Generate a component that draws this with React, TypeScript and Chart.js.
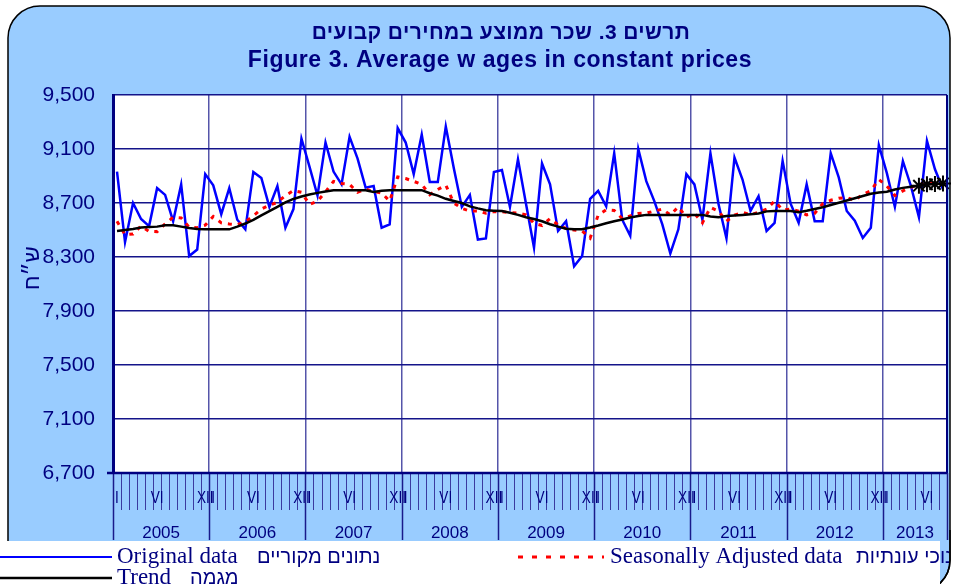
import { useEffect, useRef } from "react";
import { Chart, registerables } from "chart.js";

Chart.register(...registerables);

const years = ["2005", "2006", "2007", "2008", "2009", "2010", "2011", "2012", "2013"];
const monthsInLastYear = 8;
const monthTickLabels = ["I", "", "", "", "", "VI", "", "", "", "", "", "XII"];
const yTicks = [6700, 7100, 7500, 7900, 8300, 8700, 9100, 9500];

const categories: string[] = [];
years.forEach((y, yi) => {
  const n = yi === years.length - 1 ? monthsInLastYear : 12;
  for (let m = 0; m < n; m++) categories.push(`${y}-${m + 1}`);
});

const originalData = [
  8933, 8410, 8700, 8581, 8529, 8810, 8760, 8565, 8838, 8307, 8355, 8914,
  8831, 8617, 8810, 8576, 8505, 8930, 8886, 8671, 8826, 8517, 8655, 9176,
  8969, 8755, 9148, 8933, 8838, 9190, 9029, 8814, 8826, 8517, 8541, 9255,
  9148, 8914, 9207, 8855, 8855, 9267, 8957, 8671, 8760, 8429, 8438, 8929,
  8945, 8671, 9024, 8695, 8370, 8993, 8838, 8493, 8565, 8231, 8307, 8731,
  8790, 8676, 9069, 8576, 8457, 9100, 8862, 8714, 8541, 8326, 8505, 8914,
  8838, 8576, 9069, 8695, 8438, 9036, 8874, 8641, 8750, 8493, 8553, 9012,
  8695, 8553, 8838, 8565, 8565, 9069, 8890, 8641, 8569, 8441, 8517, 9129,
  8921, 8671, 9010, 8826, 8595, 9160, 8950, 8802,
];

const seasonallyAdjusted = [
  8565, 8465, 8470, 8530, 8490, 8488, 8545, 8595, 8590, 8520, 8517, 8536,
  8600, 8553, 8545, 8540, 8560, 8605, 8655, 8683, 8705, 8755, 8792, 8779,
  8690, 8714, 8783, 8860, 8845, 8838, 8779, 8803, 8785, 8774, 8714, 8893,
  8881, 8860, 8838, 8762, 8800, 8833, 8700, 8660, 8641, 8641, 8624, 8636,
  8635, 8630, 8625, 8612, 8550, 8533, 8585, 8538, 8510, 8500, 8493, 8440,
  8610, 8650, 8645, 8585, 8605, 8622, 8625, 8640, 8655, 8612, 8671, 8595,
  8624, 8553, 8667, 8640, 8565, 8610, 8631, 8612, 8632, 8655, 8714, 8648,
  8655, 8640, 8612, 8624, 8695, 8720, 8735, 8740, 8719, 8765, 8790, 8874,
  8826, 8755, 8790, 8815, 8838, 8838, 8850, 8838,
];

const trend = [
  8493, 8500, 8508, 8518, 8522, 8525, 8535, 8535, 8525, 8515, 8507, 8505,
  8505, 8505, 8505, 8525, 8548, 8575, 8608, 8640, 8672, 8705, 8730, 8748,
  8763, 8775, 8785, 8795, 8795, 8795, 8795, 8795, 8782, 8790, 8795, 8795,
  8795, 8795, 8795, 8772, 8755, 8731, 8715, 8700, 8675, 8660, 8647, 8643,
  8640, 8628, 8612, 8595, 8582, 8565, 8543, 8525, 8510, 8505, 8505, 8518,
  8533, 8550, 8565, 8578, 8592, 8603, 8612, 8612, 8612, 8612, 8612, 8612,
  8612, 8612, 8600, 8595, 8603, 8607, 8612, 8617, 8622, 8638, 8641, 8641,
  8641, 8632, 8642, 8655, 8668, 8685, 8702, 8718, 8735, 8752, 8768, 8778,
  8783, 8800, 8812, 8820, 8828, 8838, 8840, 8845,
];
const starFromIndex = 100;

const NAVY = "#000080";
const SANS = "'Liberation Sans', Arial, sans-serif";
const SERIF = "'Liberation Serif', 'Times New Roman', serif";

function roundRectPath(ctx: CanvasRenderingContext2D, x: number, y: number, w: number, h: number, r: number) {
  ctx.beginPath();
  ctx.moveTo(x + r, y);
  ctx.lineTo(x + w - r, y);
  ctx.arcTo(x + w, y, x + w, y + r, r);
  ctx.lineTo(x + w, y + h - r);
  ctx.arcTo(x + w, y + h, x + w - r, y + h, r);
  ctx.lineTo(x + r, y + h);
  ctx.arcTo(x, y + h, x, y + h - r, r);
  ctx.lineTo(x, y + r);
  ctx.arcTo(x, y, x + r, y, r);
  ctx.closePath();
}

const BOX = { x: 8, y: 6, w: 942, h: 586, r: 32 };

const decorPlugin = {
  id: "decor",
  beforeDraw(chart: any) {
    const { ctx, chartArea: a } = chart;
    ctx.save();
    ctx.fillStyle = "#ffffff";
    ctx.fillRect(0, 0, chart.width, chart.height);
    roundRectPath(ctx, BOX.x, BOX.y, BOX.w, BOX.h, BOX.r);
    ctx.fillStyle = "#99CCFF";
    ctx.fill();
    ctx.lineWidth = 1.5;
    ctx.strokeStyle = "#000000";
    ctx.stroke();
    ctx.fillStyle = "#ffffff";
    ctx.fillRect(a.left, a.top, a.right - a.left, a.bottom - a.top);

    // titles
    ctx.fillStyle = NAVY;
    ctx.textAlign = "center";
    ctx.textBaseline = "alphabetic";
    ctx.font = `bold 21px ${SANS}`;
    (ctx as any).letterSpacing = "0.4px";
    ctx.fillText("תרשים 3. שכר ממוצע במחירים קבועים", 501, 39);
    ctx.font = `bold 23px ${SANS}`;
    (ctx as any).letterSpacing = "0.6px";
    ctx.fillText("Figure 3. Average w ages in constant prices", 500, 67);
    (ctx as any).letterSpacing = "0px";

    // y axis title
    ctx.save();
    ctx.translate(33, 268);
    ctx.rotate(-Math.PI / 2);
    ctx.font = `22px ${SANS}`;
    ctx.textBaseline = "middle";
    ctx.fillText("ש״ח", 0, 0);
    ctx.restore();
    ctx.restore();
  },
  afterDraw(chart: any) {
    const { ctx, chartArea: a } = chart;
    const xs = chart.scales.x;
    const n = categories.length;
    const step = (a.right - a.left) / n;
    ctx.save();
    // right plot border
    ctx.strokeStyle = NAVY;
    ctx.lineWidth = 2;
    ctx.beginPath();
    ctx.moveTo(a.right, a.top);
    ctx.lineTo(a.right, a.bottom);
    ctx.stroke();

    // month ticks and year lines
    for (let i = 0; i <= n; i++) {
      const x = Math.round(a.left + i * step) + 0.5;
      const isYear = i % 12 === 0 || i === n;
      ctx.strokeStyle = isYear ? "#1a1a8a" : "#3a3aa0";
      ctx.lineWidth = isYear ? 1.5 : 1;
      ctx.beginPath();
      ctx.moveTo(x, a.bottom);
      ctx.lineTo(x, isYear ? 540 : 510);
      ctx.stroke();
    }
    // x axis line
    ctx.strokeStyle = NAVY;
    ctx.lineWidth = 2.5;
    ctx.beginPath();
    ctx.moveTo(a.left - 6, a.bottom);
    ctx.lineTo(a.right, a.bottom);
    ctx.stroke();

    // month labels
    ctx.fillStyle = NAVY;
    ctx.textAlign = "center";
    ctx.textBaseline = "alphabetic";
    ctx.font = `17px ${SANS}`;
    categories.forEach((c, i) => {
      const lab = monthTickLabels[i % 12];
      if (!lab) return;
      const x = xs.getPixelForValue(i);
      ctx.save();
      ctx.translate(x, 503);
      ctx.scale(0.8, 1);
      ctx.fillText(lab, 0, 0);
      ctx.restore();
    });
    // year labels
    ctx.font = `17px ${SANS}`;
    years.forEach((y, yi) => {
      const s = yi * 12;
      const e = Math.min(n, s + 12);
      const x0 = xs.getPixelForValue(s) - step / 2;
      const x1 = xs.getPixelForValue(e - 1) + step / 2;
      ctx.fillText(y, (x0 + x1) / 2, 538);
    });

    // legend strip
    ctx.fillStyle = "#ffffff";
    ctx.fillRect(0, 541, 940, 50);
    ctx.save();
    ctx.beginPath();
    ctx.rect(940, 530, 30, 60);
    ctx.clip();
    roundRectPath(ctx, BOX.x, BOX.y, BOX.w, BOX.h, BOX.r);
    ctx.lineWidth = 1.5;
    ctx.strokeStyle = "#000000";
    ctx.stroke();
    ctx.restore();

    ctx.save();
    ctx.beginPath();
    ctx.rect(0, 541, 949, 50);
    ctx.clip();
    ctx.lineCap = "butt";
    // original
    ctx.strokeStyle = "#0000FF";
    ctx.lineWidth = 2;
    ctx.beginPath();
    ctx.moveTo(0, 557);
    ctx.lineTo(112, 557);
    ctx.stroke();
    // trend
    ctx.strokeStyle = "#000000";
    ctx.lineWidth = 2.5;
    ctx.beginPath();
    ctx.moveTo(0, 578);
    ctx.lineTo(112, 578);
    ctx.stroke();
    // seasonally adjusted
    ctx.strokeStyle = "#FF0000";
    ctx.lineWidth = 3;
    ctx.setLineDash([5, 9]);
    ctx.beginPath();
    ctx.moveTo(518, 557);
    ctx.lineTo(604, 557);
    ctx.stroke();
    ctx.setLineDash([]);

    ctx.fillStyle = NAVY;
    ctx.textAlign = "left";
    ctx.font = `23px ${SERIF}`;
    ctx.fillText("Original data", 117, 563);
    ctx.fillText("Seasonally Adjusted data", 610, 563);
    ctx.fillText("Trend", 117, 584);
    ctx.font = `20px ${SANS}`;
    ctx.fillText("נתונים מקוריים", 257, 563);
    ctx.fillText("מנוכי עונתיות", 856, 563);
    ctx.fillText("מגמה", 190, 584);
    ctx.restore();
    ctx.restore();
  },
};

export default function App() {
  const ref = useRef<HTMLCanvasElement | null>(null);
  useEffect(() => {
    if (!ref.current) return;
    const chart = new Chart(ref.current, {
      type: "line",
      data: {
        labels: categories,
        datasets: [
          {
            label: "Trend",
            data: trend,
            borderColor: "#000000",
            borderWidth: 2.5,
            pointStyle: "star",
            pointRadius: (c: any) => (c.dataIndex >= starFromIndex ? 8 : 0),
            pointBorderColor: "#000000",
            pointBorderWidth: 2,
            tension: 0,
            order: 1,
          },
          {
            label: "Seasonally Adjusted data",
            data: seasonallyAdjusted,
            borderColor: "#FF0000",
            borderWidth: 3,
            borderDash: [4, 6],
            pointRadius: 0,
            tension: 0,
            order: 2,
          },
          {
            label: "Original data",
            data: originalData,
            borderColor: "#0000FF",
            borderWidth: 2.5,
            pointRadius: 0,
            tension: 0,
            order: 3,
          },
        ],
      },
      options: {
        animation: false,
        responsive: false,
        maintainAspectRatio: false,
        devicePixelRatio: 1,
        layout: { padding: { top: 95, bottom: 111, left: 0, right: 20 } },
        plugins: { legend: { display: false }, tooltip: { enabled: false }, title: { display: false } },
        scales: {
          x: {
            type: "category",
            offset: true,
            grid: {
              offset: true,
              drawTicks: false,
              color: (c: any) => (c.index > 0 && c.index % 12 === 0 ? "#5555aa" : "rgba(0,0,0,0)"),
              lineWidth: 1.5,
            },
            border: { display: false },
            ticks: { display: false },
            afterFit: (s: any) => {
              s.height = 0;
            },
          },
          y: {
            min: yTicks[0],
            max: yTicks[yTicks.length - 1],
            afterBuildTicks: (s: any) => {
              s.ticks = yTicks.map((v) => ({ value: v }));
            },
            ticks: {
              autoSkip: false,
              padding: 18,
              color: NAVY,
              font: { family: SANS, size: 21 },
              callback: (v: any) => Number(v).toLocaleString("en-US"),
            },
            grid: { color: "#14148a", lineWidth: 1.5, drawTicks: false },
            border: { display: true, color: NAVY, width: 3 },
            afterFit: (s: any) => {
              s.width = 113;
            },
          },
        },
      },
      plugins: [decorPlugin],
    });
    return () => chart.destroy();
  }, []);
  return (
    <canvas
      ref={ref}
      width={967}
      height={584}
      style={{ position: "absolute", left: 0, top: 0, width: 967, height: 584 }}
    />
  );
}
